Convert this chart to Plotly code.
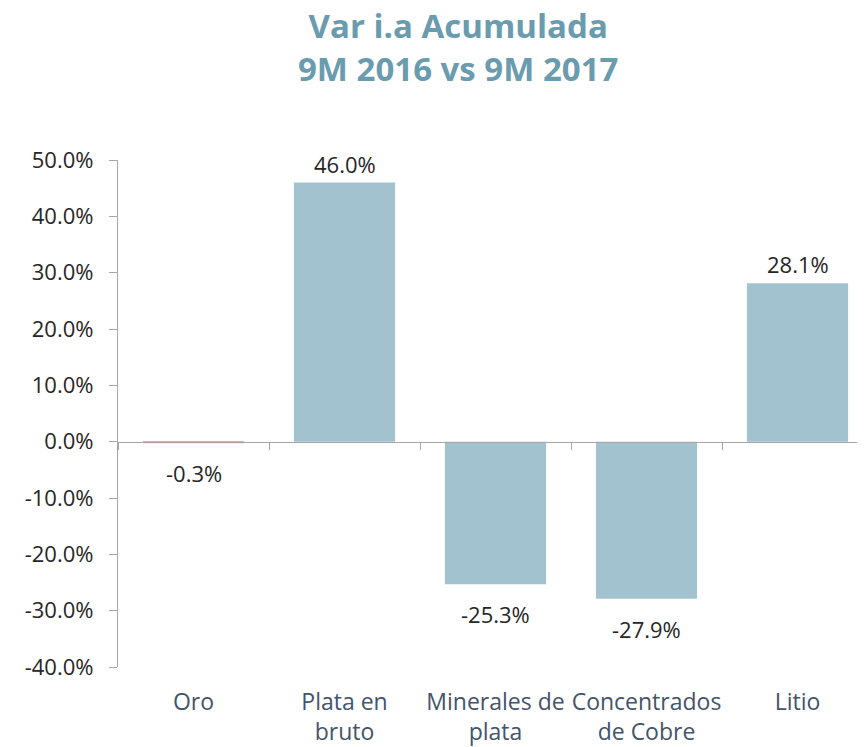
import plotly.graph_objects as go

categories = ["Oro", "Plata en bruto", "Minerales de plata", "Concentrados de Cobre", "Litio"]
tick_labels = ["Oro", "Plata en<br>bruto", "Minerales de<br>plata", "Concentrados<br>de Cobre", "Litio"]
values = [-0.3, 46.0, -25.3, -27.9, 28.1]
y_ticks = [50, 40, 30, 20, 10, 0, -10, -20, -30, -40]
title_text = "<b>Var i.a Acumulada<br>9M 2016 vs 9M 2017</b>"

BAR = "#A3C2CF"
AXIS = "#A6A6A6"
FONT = "Open Sans"
y_min, y_max = -40, 50
x_range = [-0.5, 4.447]

# page body adds an 8px offset, so the figure is sized to fit the window
W, H, OFF = 857, 739, 8
ML, MT, MB = 118 - OFF, 160 - OFF, 80
plot_w, plot_h = W - ML, H - MT - MB

fig = go.Figure()
fig.add_trace(go.Bar(
    x=categories, y=values, marker=dict(color=BAR, line=dict(width=0)),
    showlegend=False, hoverinfo="x+y",
))
# invisible trace to host the zero-line axis
fig.add_trace(go.Scatter(x=categories, y=[None] * len(categories), xaxis="x2",
                         showlegend=False, hoverinfo="skip"))

for c, v in zip(categories, values):
    fig.add_annotation(
        x=c, y=v, text=f"{v:.1f}%", showarrow=False,
        yshift=19 if v > 0 else -30, yanchor="middle",
        font=dict(family=FONT, size=22, color="#262626"),
    )

# chart title (centre at page pixel x=458, y=47)
fig.add_annotation(
    xref="paper", yref="paper",
    x=(458 - OFF - ML) / plot_w, y=1 + (MT - (47 - OFF)) / plot_h,
    xanchor="center", yanchor="middle", showarrow=False,
    text=title_text, align="center",
    font=dict(family=FONT, size=33, color="#6A9BAE"),
)

fig.update_layout(
    width=W, height=H,
    margin=dict(l=ML, r=0, t=MT, b=MB),
    paper_bgcolor="white", plot_bgcolor="white",
    bargap=0.33,
    xaxis=dict(
        type="category", categoryarray=categories, categoryorder="array",
        range=x_range, tickvals=categories, ticktext=tick_labels,
        showline=False, ticks="", showgrid=False, zeroline=False,
        ticklabelstandoff=19,
        tickfont=dict(family=FONT, size=23, color="#44546A"),
    ),
    xaxis2=dict(
        type="category", categoryarray=categories, categoryorder="array",
        overlaying="x", anchor="free",
        position=(0 - y_min) / (y_max - y_min),
        range=x_range, showline=True, linecolor=AXIS, linewidth=1.3,
        ticks="outside", tickson="boundaries", ticklen=7, tickcolor=AXIS,
        showticklabels=False, showgrid=False, zeroline=False,
    ),
    yaxis=dict(
        range=[y_min, y_max], tickvals=y_ticks,
        ticktext=[f"{t:.1f}%" for t in y_ticks],
        showline=True, linecolor=AXIS, linewidth=1.3,
        ticks="outside", ticklen=8, tickcolor=AXIS,
        ticklabelstandoff=11,
        showgrid=False, zeroline=False,
        tickfont=dict(family=FONT, size=22, color="#262626"),
    ),
)

fig.write_html("out.html")
